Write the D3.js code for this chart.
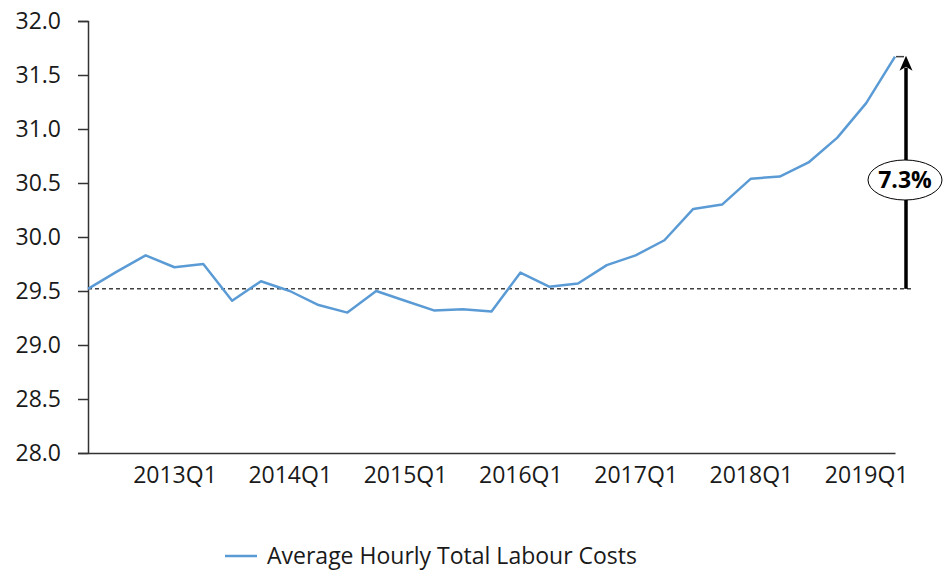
<!DOCTYPE html>
<html lang="en">
<head>
    <meta charset="utf-8" />
    <title>Average Hourly Total Labour Costs</title>
    <script src="https://cdnjs.cloudflare.com/ajax/libs/d3/7.8.5/d3.min.js"></script>
    <style>
        body { margin: 0; background: #fff; }
        svg text { font-family: "Open Sans", "Noto Sans", sans-serif; fill: #1a1a1a; }
    </style>
</head>
<body>
    <div id="vis"></div>
    <script type="text/javascript">
        var quarters = ["2012Q2", "2012Q3", "2012Q4",
            "2013Q1", "2013Q2", "2013Q3", "2013Q4",
            "2014Q1", "2014Q2", "2014Q3", "2014Q4",
            "2015Q1", "2015Q2", "2015Q3", "2015Q4",
            "2016Q1", "2016Q2", "2016Q3", "2016Q4",
            "2017Q1", "2017Q2", "2017Q3", "2017Q4",
            "2018Q1", "2018Q2", "2018Q3", "2018Q4",
            "2019Q1", "2019Q2"];
        var labourCosts = [29.52, 29.68, 29.83, 29.72, 29.75, 29.41, 29.59, 29.50,
            29.37, 29.30, 29.50, 29.41, 29.32, 29.33, 29.31, 29.67,
            29.54, 29.57, 29.74, 29.83, 29.97, 30.26, 30.30, 30.54,
            30.56, 30.69, 30.92, 31.24, 31.67];
        var xTickLabels = ["2013Q1", "2014Q1", "2015Q1", "2016Q1", "2017Q1", "2018Q1", "2019Q1"];
        var yTicks = [28.0, 28.5, 29.0, 29.5, 30.0, 30.5, 31.0, 31.5, 32.0];
        var seriesName = "Average Hourly Total Labour Costs";

        var width = 943, height = 572;
        var lineColor = "#5b9bd5";

        var svg = d3.select("#vis").append("svg")
            .attr("width", width)
            .attr("height", height);

        var x = d3.scalePoint().domain(quarters).range([88, 895]);
        var y = d3.scaleLinear().domain([28, 32]).range([453, 21]);

        // y axis
        var yAxis = svg.append("g")
            .attr("transform", "translate(88,0)")
            .call(d3.axisLeft(y).tickValues(yTicks).tickSize(10).tickPadding(17)
                .tickFormat(d3.format(".1f")));
        yAxis.select(".domain").attr("stroke", "#333").attr("stroke-width", 1.5);
        yAxis.selectAll(".tick line").attr("stroke", "#333").attr("stroke-width", 1.5);
        yAxis.selectAll("text").attr("font-size", 23).attr("fill", "#1a1a1a");

        // x axis, no tick marks
        var xAxis = svg.append("g")
            .attr("transform", "translate(0,453)")
            .call(d3.axisBottom(x).tickValues(xTickLabels).tickSize(0).tickPadding(14));
        xAxis.select(".domain").attr("stroke", "#333").attr("stroke-width", 1.5);
        xAxis.selectAll("text").attr("font-size", 23).attr("fill", "#1a1a1a");

        var first = labourCosts[0];
        var last = labourCosts[labourCosts.length - 1];
        var lastX = x(quarters[quarters.length - 1]);
        var arrowX = 906;

        // baseline from the first quarter
        svg.append("line")
            .attr("x1", x(quarters[0])).attr("x2", 913)
            .attr("y1", y(first)).attr("y2", y(first))
            .attr("stroke", "#404040").attr("stroke-width", 1.5)
            .attr("stroke-dasharray", "4,3");

        // the series
        var line = d3.line()
            .x(function (d, i) { return x(quarters[i]); })
            .y(function (d) { return y(d); });

        svg.append("path")
            .datum(labourCosts)
            .attr("fill", "none")
            .attr("stroke", lineColor)
            .attr("stroke-width", 2.5)
            .attr("stroke-linejoin", "round")
            .attr("d", line);

        // short dash from the last point to the arrow
        svg.append("line")
            .attr("x1", lastX + 1).attr("x2", arrowX - 2)
            .attr("y1", y(last)).attr("y2", y(last))
            .attr("stroke", "#404040").attr("stroke-width", 1.5);

        // growth arrow
        svg.append("line")
            .attr("x1", arrowX).attr("x2", arrowX)
            .attr("y1", y(first)).attr("y2", y(last) + 11)
            .attr("stroke", "#000").attr("stroke-width", 3.5);
        svg.append("path")
            .attr("d", "M" + (arrowX - 6.5) + "," + (y(last) + 14) + " L" + arrowX + "," + (y(last) - 1) +
                " L" + (arrowX + 6.5) + "," + (y(last) + 14) + " L" + arrowX + "," + (y(last) + 10) + " Z")
            .attr("fill", "#000");

        var growth = (last / first - 1) * 100;
        svg.append("ellipse")
            .attr("cx", 905).attr("cy", 180)
            .attr("rx", 37).attr("ry", 20)
            .attr("fill", "#fff").attr("stroke", "#000").attr("stroke-width", 1);
        svg.append("text")
            .attr("x", 905).attr("y", 180)
            .attr("dy", "0.36em")
            .attr("text-anchor", "middle")
            .attr("font-size", 23)
            .attr("font-weight", "bold")
            .style("fill", "#000")
            .text(growth.toFixed(1) + "%");

        // legend
        var legend = svg.append("g");
        legend.append("line")
            .attr("x1", 225).attr("x2", 257)
            .attr("y1", 556).attr("y2", 556)
            .attr("stroke", lineColor).attr("stroke-width", 2.5);
        legend.append("text")
            .attr("x", 267).attr("y", 556)
            .attr("dy", "0.35em")
            .attr("font-size", 23)
            .text(seriesName);
    </script>
</body>
</html>
